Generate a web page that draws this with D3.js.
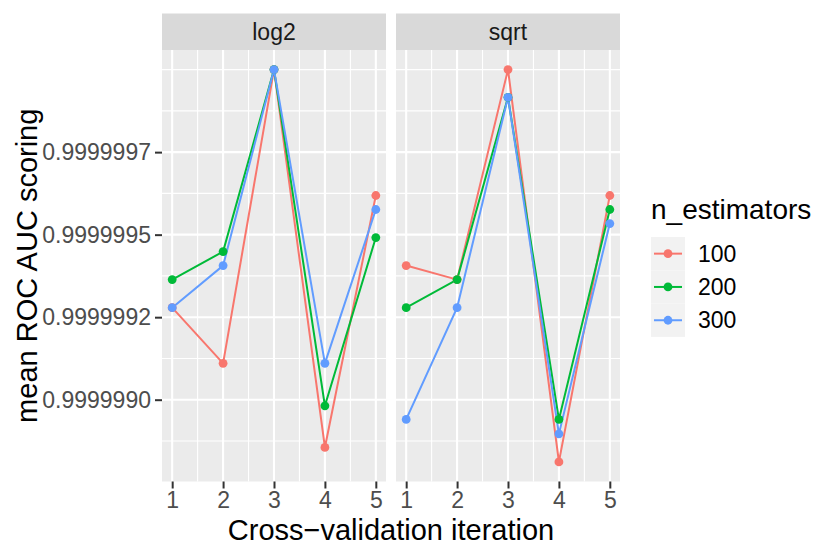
<!DOCTYPE html>
<html>
<head>
<meta charset="utf-8">
<script src="https://cdn.jsdelivr.net/npm/d3@7"></script>
<style>
  body { margin: 0; background: #fff; }
  text { font-family: "Liberation Sans", Arial, Helvetica, sans-serif; }
</style>
</head>
<body>
<script>
// data
var iterations = [1, 2, 3, 4, 5];
var facets = ["log2", "sqrt"];
var estimators = ["100", "200", "300"];
var colors = ["#F8766D", "#00BA38", "#619CFF"];

var log2_100 = [0.9999992788, 0.9999991101, 1.0000000000, 0.9999988553, 0.9999996186];
var log2_200 = [0.9999993638, 0.9999994487, 1.0000000000, 0.9999989815, 0.9999994912];
var log2_300 = [0.9999992788, 0.9999994063, 1.0000000000, 0.9999991101, 0.9999995762];
var sqrt_100 = [0.9999994063, 0.9999993638, 1.0000000000, 0.9999988116, 0.9999996186];
var sqrt_200 = [0.9999992788, 0.9999993638, 0.9999999160, 0.9999989402, 0.9999995762];
var sqrt_300 = [0.9999989402, 0.9999992788, 0.9999999160, 0.9999988965, 0.9999995337];

var yBreaks = [0.999999, 0.99999925, 0.9999995, 0.99999975];
var yTickLabels = ["0.9999990", "0.9999992", "0.9999995", "0.9999997"];
var yMinor = [0.999998875, 0.999999125, 0.999999375, 0.999999625, 0.999999875, 1.0];
var xMinor = [1.5, 2.5, 3.5, 4.5];

var series = {
    log2: [log2_100, log2_200, log2_300],
    sqrt: [sqrt_100, sqrt_200, sqrt_300]
};

var width = 818, height = 544;
var panelTop = 50, panelBottom = 481.5, stripTop = 13.5;
var panelLeft = [162, 396], panelW = 224;
var tickFont = 23, titleFont = 29;

var svg = d3.select("body").append("svg")
    .attr("width", width)
    .attr("height", height);

var allVals = [].concat(log2_100, log2_200, log2_300, sqrt_100, sqrt_200, sqrt_300);
var ext = d3.extent(allVals), pad = (ext[1] - ext[0]) * 0.05;
var y = d3.scaleLinear()
    .domain([ext[0] - pad, ext[1] + pad])
    .range([panelBottom, panelTop]);

facets.forEach(function(f, fi) {
    var x = d3.scaleLinear()
        .domain([0.8, 5.2])
        .range([panelLeft[fi], panelLeft[fi] + panelW]);

    var g = svg.append("g");

    // strip
    g.append("rect")
        .attr("x", panelLeft[fi]).attr("y", stripTop)
        .attr("width", panelW).attr("height", panelTop - stripTop)
        .attr("fill", "#D9D9D9");
    g.append("text")
        .attr("x", panelLeft[fi] + panelW / 2)
        .attr("y", (stripTop + panelTop) / 2 + 8)
        .attr("text-anchor", "middle")
        .attr("font-size", tickFont)
        .attr("fill", "#1A1A1A")
        .text(f);

    // panel
    g.append("rect")
        .attr("x", panelLeft[fi]).attr("y", panelTop)
        .attr("width", panelW).attr("height", panelBottom - panelTop)
        .attr("fill", "#EBEBEB");

    g.selectAll(".ymin").data(yMinor).enter().append("line")
        .attr("x1", panelLeft[fi]).attr("x2", panelLeft[fi] + panelW)
        .attr("y1", d => y(d)).attr("y2", d => y(d))
        .attr("stroke", "#fff").attr("stroke-width", 1.1);
    g.selectAll(".xmin").data(xMinor).enter().append("line")
        .attr("x1", d => x(d)).attr("x2", d => x(d))
        .attr("y1", panelTop).attr("y2", panelBottom)
        .attr("stroke", "#fff").attr("stroke-width", 1.1);
    g.selectAll(".ymaj").data(yBreaks).enter().append("line")
        .attr("x1", panelLeft[fi]).attr("x2", panelLeft[fi] + panelW)
        .attr("y1", d => y(d)).attr("y2", d => y(d))
        .attr("stroke", "#fff").attr("stroke-width", 2.1);
    g.selectAll(".xmaj").data(iterations).enter().append("line")
        .attr("x1", d => x(d)).attr("x2", d => x(d))
        .attr("y1", panelTop).attr("y2", panelBottom)
        .attr("stroke", "#fff").attr("stroke-width", 2.1);

    // x axis
    var xAxis = d3.axisBottom(x).tickValues(iterations).tickFormat(d3.format("d"))
        .tickSize(7).tickPadding(3);
    var xa = g.append("g")
        .attr("transform", "translate(0," + panelBottom + ")")
        .call(xAxis);
    xa.select(".domain").remove();
    xa.selectAll(".tick line").attr("stroke", "#333").attr("stroke-width", 2);
    xa.selectAll(".tick text").attr("font-size", tickFont).attr("fill", "#4D4D4D")
        .attr("font-family", "Liberation Sans, Arial, sans-serif");

    // series
    var line = d3.line()
        .x((d, i) => x(iterations[i]))
        .y(d => y(d));
    series[f].forEach(function(vals, si) {
        g.append("path")
            .datum(vals)
            .attr("d", line)
            .attr("fill", "none")
            .attr("stroke", colors[si])
            .attr("stroke-width", 2);
    });
    series[f].forEach(function(vals, si) {
        g.selectAll(".pt" + si).data(vals).enter().append("circle")
            .attr("cx", (d, i) => x(iterations[i]))
            .attr("cy", d => y(d))
            .attr("r", 4.4)
            .attr("fill", colors[si]);
    });
});

// y axis on first panel
var yAxis = d3.axisLeft(y).tickValues(yBreaks)
    .tickFormat((d, i) => yTickLabels[i]).tickSize(7).tickPadding(4);
var ya = svg.append("g")
    .attr("transform", "translate(" + panelLeft[0] + ",0)")
    .call(yAxis);
ya.select(".domain").remove();
ya.selectAll(".tick line").attr("stroke", "#333").attr("stroke-width", 2);
ya.selectAll(".tick text").attr("font-size", tickFont).attr("fill", "#4D4D4D")
    .attr("font-family", "Liberation Sans, Arial, sans-serif");

// axis titles
svg.append("text")
    .attr("x", (panelLeft[0] + panelLeft[1] + panelW) / 2)
    .attr("y", 539.5)
    .attr("text-anchor", "middle")
    .attr("font-size", titleFont)
    .text("Cross\u2212validation iteration");

svg.append("text")
    .attr("transform", "translate(37," + (panelTop + panelBottom) / 2 + ") rotate(-90)")
    .attr("text-anchor", "middle")
    .attr("font-size", titleFont)
    .text("mean ROC AUC scoring");

// legend
var legend = svg.append("g").attr("transform", "translate(651,0)");
legend.append("text")
    .attr("x", 0).attr("y", 219)
    .attr("font-size", 28)
    .text("n_estimators");

var keyH = 33.3, keyTop = 237;
estimators.forEach(function(e, i) {
    var ky = keyTop + i * keyH;
    legend.append("rect")
        .attr("x", 0).attr("y", ky)
        .attr("width", 34).attr("height", keyH)
        .attr("fill", "#F2F2F2");
    legend.append("line")
        .attr("x1", 3).attr("x2", 31)
        .attr("y1", ky + keyH / 2).attr("y2", ky + keyH / 2)
        .attr("stroke", colors[i]).attr("stroke-width", 2);
    legend.append("circle")
        .attr("cx", 17).attr("cy", ky + keyH / 2).attr("r", 4.4)
        .attr("fill", colors[i]);
    legend.append("text")
        .attr("x", 47).attr("y", ky + keyH / 2 + 8)
        .attr("font-size", tickFont)
        .text(e);
});
</script>
</body>
</html>
